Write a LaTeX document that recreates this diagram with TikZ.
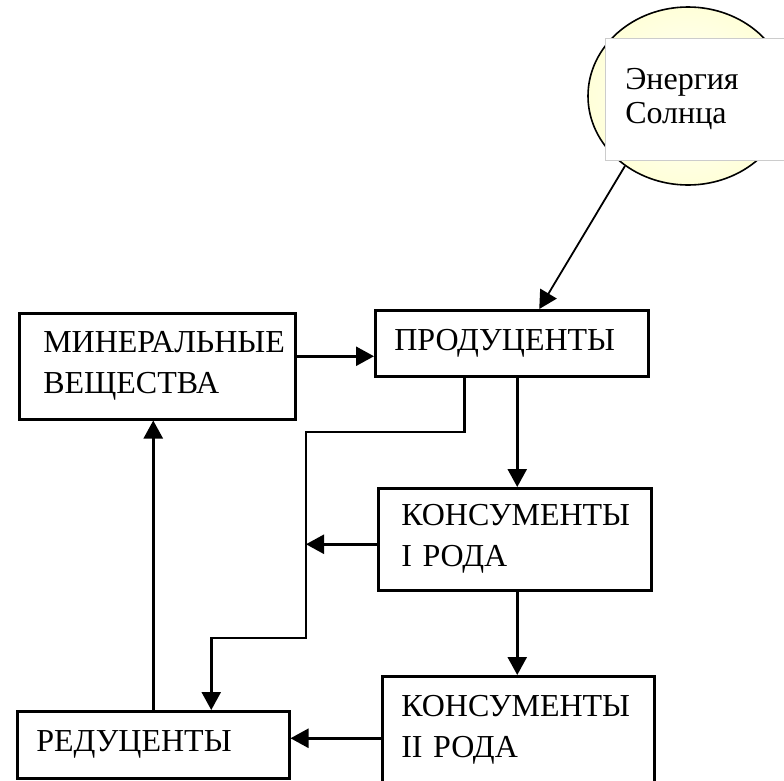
\documentclass[tikz,border=0pt]{standalone}
\usepackage{fontspec}
\setmainfont{Liberation Serif}
\newfontfamily\boxfont{Liberation Serif}
\usetikzlibrary{arrows.meta,shapes.geometric,calc}
\begin{document}
\begin{tikzpicture}[x=1pt,y=-1pt,
  box/.style={draw, line width=2.5pt, anchor=north west, align=left, fill=white,
    font=\boxfont\fontsize{32}{41}\selectfont, inner ysep=0pt},
  arr/.style={line width=2.5pt, -{Triangle[length=18pt,width=19pt]}},
  ln/.style={line width=2.5pt}]
\clip (0,0) rectangle (784,780);
% sun
\node[ellipse, draw, line width=1.6pt, minimum width=200pt, minimum height=178pt,
  inner sep=0pt, inner color=white, outer color=yellow!15] (sun) at (688,96) {};
\node[draw=gray!40, line width=0.6pt, fill=white, anchor=north west, minimum height=122pt,
  text width=150pt, inner xsep=20pt, inner ysep=0pt, align=left,
  font=\boxfont\fontsize{32}{34}\selectfont] (sunlbl) at (605,38) {Энергия\\Солнца};
% boxes
\node[box, minimum width=276pt, minimum height=106pt, inner xsep=24pt, text width=228pt]
  (min) at (18,312) {МИНЕРАЛЬНЫЕ\\ВЕЩЕСТВА};
\node[box, minimum width=273pt, minimum height=66pt, inner xsep=19pt, text width=235pt]
  (prod) at (374,309) {ПРОДУЦЕНТЫ};
\node[box, minimum width=273pt, minimum height=102pt, inner xsep=23pt, text width=227pt]
  (k1) at (377,487) {КОНСУМЕНТЫ\\I РОДА};
\node[box, minimum width=272pt, minimum height=108pt, inner xsep=19pt, text width=234pt]
  (k2) at (381,675) {КОНСУМЕНТЫ\\II РОДА};
\node[box, minimum width=272pt, minimum height=67pt, inner xsep=19pt, text width=234pt]
  (red) at (16,710) {РЕДУЦЕНТЫ};
% helper coordinates
\coordinate (m1) at ([yshift=10pt]min.east);
\coordinate (p1) at ([xshift=5.5pt]prod.south);
\coordinate (pa) at ([xshift=-47.5pt]prod.south);
\coordinate (k1b) at ([xshift=2.5pt]k1.south);
\coordinate (k1w) at ([yshift=-5pt]k1.west);
\coordinate (k2w) at ([yshift=-8pt]k2.west);
\coordinate (rin) at ([xshift=58pt]red.north);
\coordinate (busTop) at (306,432);
\coordinate (busBot) at (306,638);
% connectors
\draw[arr, line width=1.8pt] (sun.228) -- ([xshift=27.5pt]prod.north);
\draw[arr] (m1) -- (m1 -| prod.west);
\draw[arr] (p1) -- (p1 |- k1.north);
\draw[arr] (k1b) -- (k1b |- k2.north);
\draw[arr] (pa) |- (busTop) -- (busBot) -| (rin);
\draw[arr] (k1w) -- (k1w -| busTop);
\draw[arr] (k2w) -- (k2w -| red.east);
\draw[arr] (red.north) -- (red.north |- min.south);
\end{tikzpicture}
\end{document}
